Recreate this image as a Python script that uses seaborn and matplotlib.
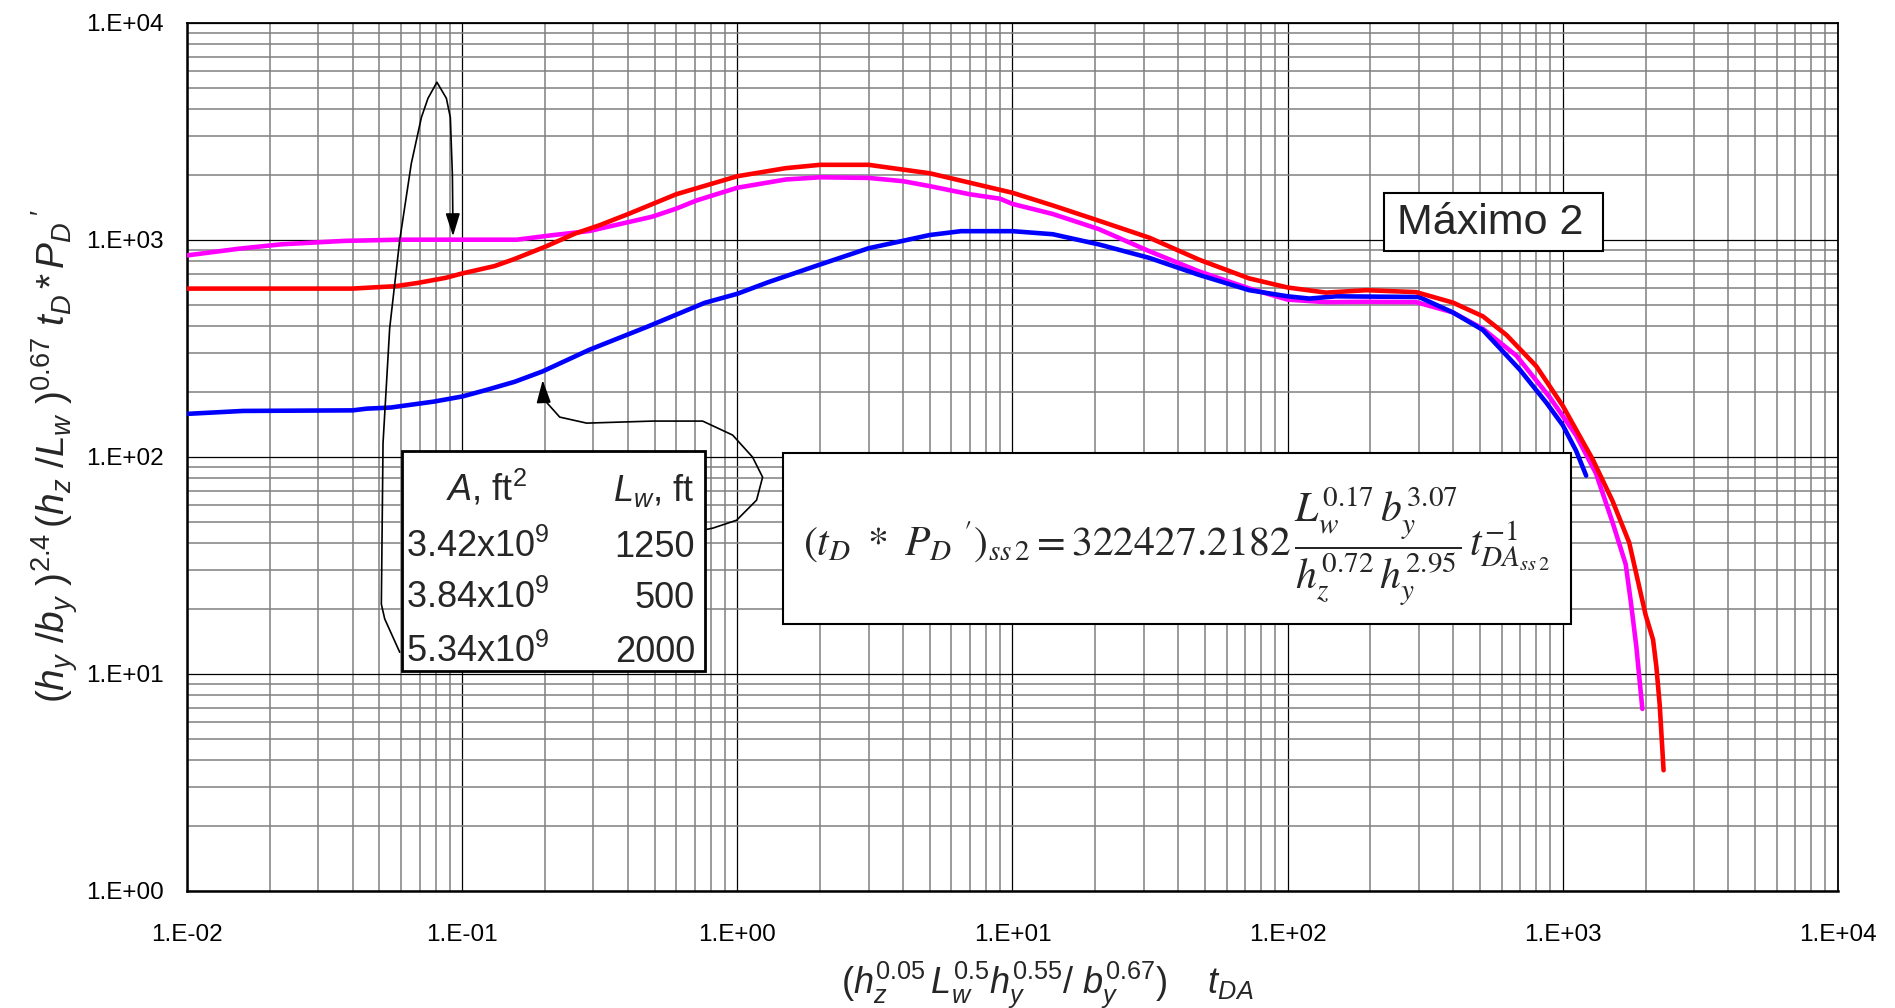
import numpy as np
import pandas as pd
import matplotlib
matplotlib.use("Agg")
import matplotlib.pyplot as plt
import seaborn as sns
from matplotlib.patches import Rectangle
from matplotlib.ticker import LogLocator, NullFormatter

# ---------------- data ----------------
red_x = [0.01, 0.02, 0.04, 0.048, 0.057, 0.069, 0.087, 0.1, 0.131, 0.154, 0.2, 0.257,
         0.316, 0.4, 0.6, 1, 1.5, 2, 3, 4, 5, 7, 10, 14, 20.6, 31.4, 47.7, 72.5, 100,
         138, 193, 293, 398, 512, 624, 801, 1000, 1284, 1516, 1742, 2000, 2128, 2188,
         2250, 2324]
red_y = [597, 597, 597, 605, 612, 634, 669, 701, 758, 815, 930, 1070,
         1170, 1315, 1625, 1967, 2143, 2220, 2220, 2110, 2030, 1836, 1650, 1443, 1227,
         1025, 811, 665, 604, 572, 587, 575, 515, 445, 365, 262, 172, 97.5, 62.7, 40.4,
         18.7, 14.4, 10.8, 7.2, 3.6]

mag_x = [0.01, 0.0155, 0.022, 0.037, 0.059, 0.1, 0.158, 0.21, 0.29, 0.49, 0.6, 0.71, 1,
         1.5, 2, 3, 4, 5, 7, 9, 10, 14, 20.6, 31.4, 47.7, 72.5, 100, 138, 193, 293, 398,
         512, 678, 895, 1117, 1320, 1516, 1693, 1766, 1850, 1946]
mag_y = [849, 912, 955, 990, 1003, 1003, 1003, 1050, 1100, 1280, 1395, 1520, 1741,
         1900, 1945, 1932, 1866, 1771, 1624, 1550, 1466, 1318, 1122, 888, 716, 598, 531,
         517, 519, 517, 464, 390, 293, 189, 126, 84, 50, 32, 21.6, 13.4, 6.9]

blue_x = [0.01, 0.016, 0.04, 0.045, 0.055, 0.079, 0.1, 0.123, 0.155, 0.196, 0.29, 0.47,
          0.76, 1, 1.3, 2, 3, 5, 6.5, 10, 14, 20.6, 31.4, 47.7, 72.5, 100, 120, 150, 300,
          398, 512, 697, 871, 1000, 1117, 1216]
blue_y = [158, 163, 164, 167, 169, 180, 190, 204, 222, 248, 312, 398,
          513, 565, 640, 771, 916, 1054, 1098, 1098, 1063, 954, 827, 690, 587, 550, 537,
          550, 546, 464, 385, 253, 178, 140, 107, 82]

series_names = ["magenta", "blue", "red"]
series_colors = {"magenta": "#FF00FF", "blue": "#0000FF", "red": "#FF0000"}

x_tick_vals = [1e-2, 1e-1, 1e0, 1e1, 1e2, 1e3, 1e4]
x_tick_labels = ["1.E-02", "1.E-01", "1.E+00", "1.E+01", "1.E+02", "1.E+03", "1.E+04"]
y_tick_vals = [1e0, 1e1, 1e2, 1e3, 1e4]
y_tick_labels = ["1.E+00", "1.E+01", "1.E+02", "1.E+03", "1.E+04"]

table_header = ["$A$, ft$^2$", "$L_w$, ft"]
table_area = ["3.42x10$^9$", "3.84x10$^9$", "5.34x10$^9$"]
table_lw = ["1250", "500", "2000"]

# ---------------- style ----------------
sns.set_style("white")
plt.rcParams["font.family"] = ["Liberation Sans", "DejaVu Sans"]
plt.rcParams["mathtext.fontset"] = "custom"
plt.rcParams["mathtext.rm"] = "Liberation Sans"
plt.rcParams["mathtext.it"] = "Liberation Sans:italic"
plt.rcParams["mathtext.bf"] = "Liberation Sans:bold"

df = pd.concat([
    pd.DataFrame({"x": mag_x, "y": mag_y, "s": "magenta"}),
    pd.DataFrame({"x": blue_x, "y": blue_y, "s": "blue"}),
    pd.DataFrame({"x": red_x, "y": red_y, "s": "red"}),
], ignore_index=True)

fig = plt.figure(figsize=(18.95, 10.08), dpi=100)
ax = fig.add_axes([0.0987, 0.1161, 0.8712, 0.8611])

sns.lineplot(data=df, x="x", y="y", hue="s", hue_order=series_names,
             palette=series_colors, estimator=None, sort=False, linewidth=3.3,
             legend=False, ax=ax, zorder=3)

ax.set_xscale("log")
ax.set_yscale("log")
ax.set_xlim(1e-2, 1e4)
ax.set_ylim(1e0, 1e4)
ax.set_xticks(x_tick_vals, x_tick_labels)
ax.set_yticks(y_tick_vals, y_tick_labels)
ax.xaxis.set_minor_locator(LogLocator(base=10, subs=np.arange(2, 10)))
ax.yaxis.set_minor_locator(LogLocator(base=10, subs=np.arange(2, 10)))
ax.xaxis.set_minor_formatter(NullFormatter())
ax.yaxis.set_minor_formatter(NullFormatter())
ax.set_axisbelow(True)
ax.grid(which="minor", color="#808080", linewidth=1.1)
ax.grid(which="major", color="black", linewidth=0.9)
ax.tick_params(which="minor", length=0)
ax.tick_params(axis="x", which="major", length=8, width=1.0, direction="out",
               pad=16, labelsize=17.5, colors="black")
ax.tick_params(axis="y", which="major", length=6, width=1.0, direction="out",
               pad=11, labelsize=17.5, colors="black")
ax.set_xlabel("")
ax.set_ylabel("")
for sp in ax.spines.values():
    sp.set_color("black")
    sp.set_linewidth(1.3)
ax.spines["left"].set_linewidth(1.8)
ax.spines["bottom"].set_linewidth(1.8)

# ---------------- axis titles ----------------
fig.text(0.4438, 0.0149,
         r"$(h_z^{0.05}\,L_w^{0.5}h_y^{0.55}/\ b_y^{0.67})\quad\ t_{DA}$",
         fontsize=26, ha="left", va="baseline")
fig.text(0.029, 0.548,
         r"$(h_y\ /b_y\ )^{2.4}\,(h_z\ /L_w\ )^{0.67}\ t_D\,{*}\,P_D\,'$",
         fontsize=28, rotation=90, ha="center", va="center")

# ---------------- annotation arrows ----------------
arrow1 = [(-1.2270, 1.1003), (-1.2815, 1.2535), (-1.2938, 1.3215), (-1.2877, 2.0641),
          (-1.2635, 2.5939), (-1.2270, 2.9994), (-1.1849, 3.3526), (-1.1484, 3.5643),
          (-1.1243, 3.6529), (-1.0918, 3.7270), (-1.0575, 3.6529), (-1.0431, 3.5643),
          (-1.0356, 3.2992), (-1.0340, 3.10)]
tip1 = (-1.0334, 3.0173)
arrow2 = [(-0.1625, 1.6535), (-0.0896, 1.6719), (-0.0026, 1.7086), (0.0699, 1.8011),
          (0.0918, 1.9070), (0.0553, 1.9994), (-0.0171, 2.1009), (-0.1261, 2.1654),
          (-0.3079, 2.1654), (-0.5477, 2.1560), (-0.6456, 2.1838), (-0.7005, 2.2618),
          (-0.7055, 2.30)]
tip2 = (-0.7075, 2.3543)
for path, tip in ((arrow1, tip1), (arrow2, tip2)):
    px = [10 ** p[0] for p in path]
    py = [10 ** p[1] for p in path]
    ax.plot(px, py, color="black", linewidth=1.2, zorder=4)
    ax.annotate("", xy=(10 ** tip[0], 10 ** tip[1]), xytext=(px[-1], py[-1]),
                arrowprops=dict(arrowstyle="-|>,head_length=0.7,head_width=0.22",
                                mutation_scale=20, color="black", lw=1.2,
                                shrinkA=0, shrinkB=0), zorder=4)

# ---------------- boxes ----------------
def box(x0, y0, x1, y1, lw):
    ax.add_patch(Rectangle((x0, y0), x1 - x0, y1 - y0, transform=fig.transFigure,
                           facecolor="white", edgecolor="black", linewidth=lw,
                           zorder=5, clip_on=False))

# table
box(0.2121, 0.3343, 0.3720, 0.5526, 2.0)
ax.text(0.2354, 0.503, table_header[0], transform=fig.transFigure, fontsize=26,
        ha="left", va="baseline", zorder=6)
ax.text(0.3662, 0.503, table_header[1], transform=fig.transFigure, fontsize=26,
        ha="right", va="baseline", zorder=6)
for i, yb in enumerate([0.4474, 0.3968, 0.3433]):
    ax.text(0.2143, yb, table_area[i], transform=fig.transFigure, fontsize=26,
            ha="left", va="baseline", zorder=6)
    ax.text(0.3667, yb, table_lw[i], transform=fig.transFigure, fontsize=26,
            ha="right", va="baseline", zorder=6)

# equation
box(0.4132, 0.3810, 0.8290, 0.5506, 1.5)
ax.text(0.4237, 0.4484,
        r"$(t_D\ *\ P_D\ ')_{ss\,2} = 322427.2182\,\dfrac{L_w^{0.17}\,b_y^{3.07}}"
        r"{h_z^{0.72}\,h_y^{2.95}}\,t_{DA_{ss\,2}}^{-1}$",
        transform=fig.transFigure, fontsize=30, ha="left", va="baseline",
        math_fontfamily="stix", zorder=6)

# Maximo 2
box(0.7303, 0.7510, 0.8459, 0.8085, 1.5)
ax.text(0.7370, 0.7676, "Máximo 2", transform=fig.transFigure, fontsize=31,
        ha="left", va="baseline", zorder=6)

fig.savefig("out.png", dpi=100)
